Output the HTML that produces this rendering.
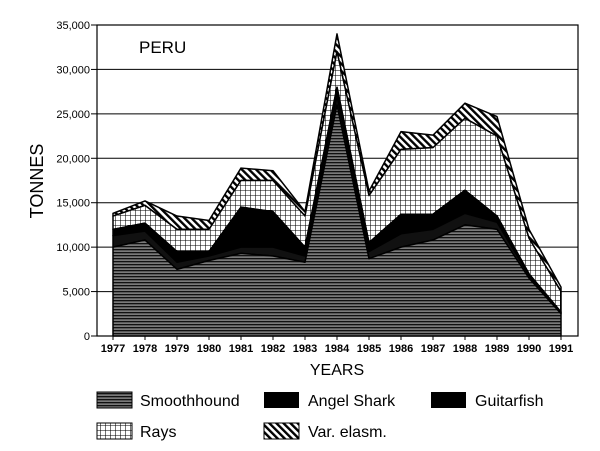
<!DOCTYPE html>
<html><head><meta charset="utf-8"><style>
html,body{margin:0;padding:0;background:#fff;}
svg{display:block;font-family:"Liberation Sans",Arial,sans-serif;}
</style></head><body>
<svg id="s" width="600" height="451" viewBox="0 0 600 451" xmlns="http://www.w3.org/2000/svg">
<defs>
<pattern id="hz" width="6" height="3" patternUnits="userSpaceOnUse"><rect width="6" height="3" fill="#7a7a7a"/><rect y="0" width="6" height="1.3" fill="#111"/></pattern>
<pattern id="grid" width="5" height="5" patternUnits="userSpaceOnUse"><rect width="5" height="5" fill="#fff"/><path d="M0 0H5M0 0V5" stroke="#000" stroke-width="1.1"/></pattern>
<pattern id="diag" width="5" height="5" patternUnits="userSpaceOnUse" patternTransform="rotate(-45)"><rect width="5" height="5" fill="#fff"/><rect width="2.4" height="5" fill="#000"/></pattern>
</defs>
<rect x="97" y="25" width="481" height="311" fill="#fff" stroke="#000" stroke-width="1.2"/>
<g id="grid-lines" stroke="#000" stroke-width="1"></g>
<g id="areas"></g>
<text x="139" y="53" font-size="17">PERU</text>
<text transform="translate(43,181) rotate(-90)" font-size="18" text-anchor="middle">TONNES</text>
<g id="ylab" font-size="11" text-anchor="end"></g>
<g id="xlab" font-size="11" text-anchor="middle" font-weight="bold"></g>
<text x="337" y="375" font-size="16" text-anchor="middle">YEARS</text>
<rect x="97" y="392" width="35" height="16" fill="url(#hz)" stroke="#000"/>
<text x="140" y="406" font-size="16">Smoothhound</text>
<rect x="264" y="392" width="35" height="16" fill="#000"/>
<text x="308" y="406" font-size="16">Angel Shark</text>
<rect x="431" y="392" width="35" height="16" fill="#000"/>
<text x="475" y="406" font-size="16">Guitarfish</text>
<rect x="97" y="423" width="35" height="16" fill="url(#grid)" stroke="#000"/>
<text x="140" y="437" font-size="16">Rays</text>
<rect x="264" y="423" width="35" height="16" fill="url(#diag)" stroke="#000"/>
<text x="308" y="437" font-size="16">Var. elasm.</text>
</svg>
<script>
var NS="http://www.w3.org/2000/svg";
function el(t,a,p){var e=document.createElementNS(NS,t);for(var k in a)e.setAttribute(k,a[k]);p.appendChild(e);return e;}
function Y(v){return 336-v*311/35000;}
function X(i){return 113+i*32;}
var g=document.getElementById('grid-lines'),yl=document.getElementById('ylab'),xl=document.getElementById('xlab');
for(var v=0;v<=35000;v+=5000){var y=Y(v);if(v>0&&v<35000)el('line',{x1:97,x2:578,y1:y,y2:y},g);
el('line',{x1:91,x2:97,y1:y,y2:y,stroke:'#000'},yl);
var t=el('text',{x:90,y:y+4},yl);t.textContent=v==0?'0':(v/1000)+',000';}
for(var i=0;i<15;i++){var t=el('text',{x:X(i),y:352},xl);t.textContent=1977+i;el('line',{x1:X(i),x2:X(i),y1:336,y2:340,stroke:'#000'},xl);}
var sm=[10000,10800,7500,8500,9300,9000,8300,26000,8700,10000,10800,12500,12000,6500,2500];
var an=[11300,11800,8300,9000,10000,10000,9000,27000,9500,11500,12000,13800,12800,6800,2600];
var gu=[12000,12700,9500,9500,14500,14000,10000,28000,10500,13700,13700,16400,13500,7000,2700];
var ra=[13500,14700,12000,12000,17500,17500,13500,32000,15800,21000,21200,24500,22500,11000,5000];
var va=[13800,15200,13500,13000,18900,18600,14000,34000,16300,23000,22600,26200,24700,12000,5500];
var A=document.getElementById('areas');
function band(top,bot,fill){var p=[];for(var i=0;i<15;i++)p.push(X(i)+','+Y(top[i]));for(var i=14;i>=0;i--)p.push(X(i)+','+Y(bot?bot[i]:0));el('polygon',{points:p.join(' '),fill:fill,stroke:'#000','stroke-width':1.5,'stroke-linejoin':'round'},A);}
band(va,ra,'url(#diag)');band(ra,gu,'url(#grid)');band(gu,an,'#000');band(an,sm,'#111');band(sm,null,'url(#hz)');
</script>
</body></html>
